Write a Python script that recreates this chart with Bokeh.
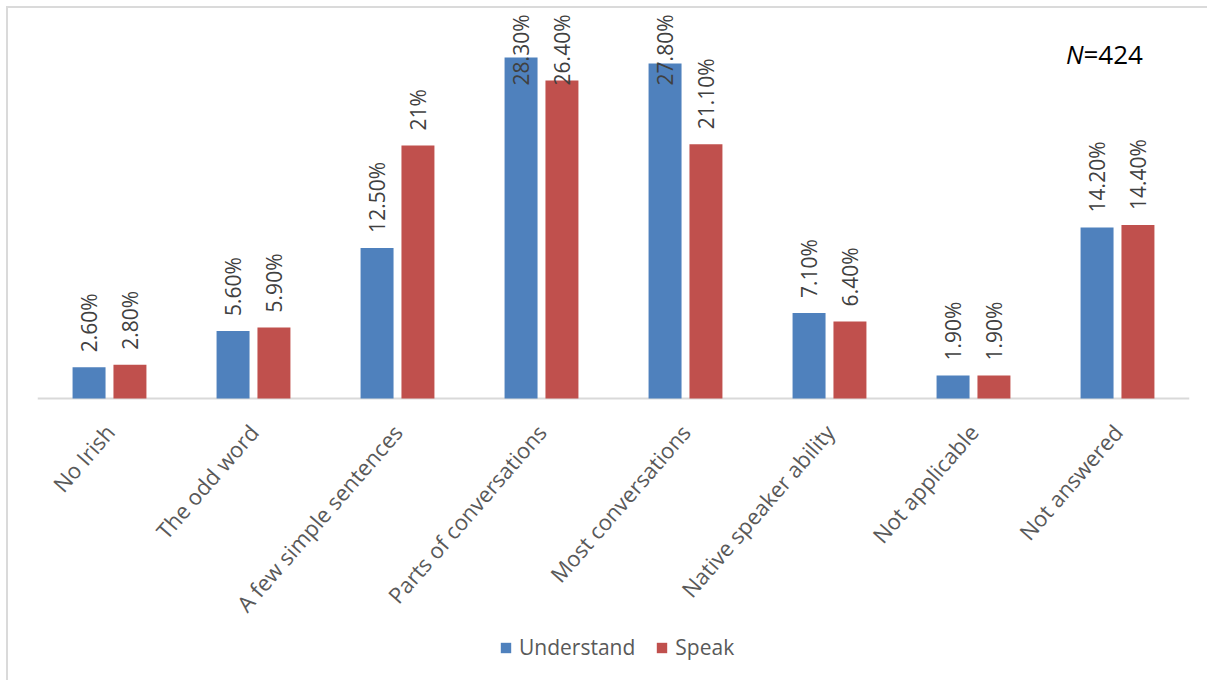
from math import pi, radians
from bokeh.plotting import figure
from bokeh.models import ColumnDataSource, FactorRange, Range1d, Span, Legend, LegendItem, Label
from bokeh.transform import dodge
from bokeh.core.properties import value
from bokeh.embed import file_html
from bokeh.resources import INLINE

# ---- data ----
categories = ["No Irish", "The odd word", "A few simple sentences", "Parts of conversations",
              "Most conversations", "Native speaker ability", "Not applicable", "Not answered"]
understand = [2.6, 5.6, 12.5, 28.3, 27.8, 7.1, 1.9, 14.2]
speak = [2.8, 5.9, 21.0, 26.4, 21.1, 6.4, 1.9, 14.4]
understand_labels = ["2.60%", "5.60%", "12.50%", "28.30%", "27.80%", "7.10%", "1.90%", "14.20%"]
speak_labels = ["2.80%", "5.90%", "21%", "26.40%", "21.10%", "6.40%", "1.90%", "14.40%"]
series_names = ["Understand", "Speak"]
n_text = ["N", "=424"]

# ---- style / layout constants ----
W, H = 1201, 674
BASE_Y = 390.0          # px from top of figure to the baseline
PX_PER_UNIT = 12.05
LABEL_GAP_PX = 15
LABEL_LEN_PX = 74
TOP_PAD_PX = 6
BLUE, RED = "#4F81BD", "#C0504D"
FONT = "Open Sans"
BAR_W = 0.229
OFF = 0.142

p = figure(width=W, height=H, x_range=FactorRange(*categories),
           y_range=Range1d(-(H - BASE_Y) / PX_PER_UNIT, BASE_Y / PX_PER_UNIT),
           output_backend="svg", toolbar_location=None,
           x_axis_location=None, y_axis_location=None,
           min_border_left=29, min_border_right=20, min_border_top=0, min_border_bottom=0)
p.xgrid.visible = False
p.ygrid.visible = False
p.outline_line_color = None
p.background_fill_color = "white"
p.border_fill_color = "white"
p.styles = {"border-top": "2px solid #dadada", "border-left": "2px solid #dadada",
            "border-right": "none", "border-bottom": "none", "outline": "none",
            "box-shadow": "none", "margin-left": "6px", "margin-top": "6px"}

p.add_layout(Span(location=0, dimension="width", line_color="#d9d9d9", line_width=2, level="underlay"))

top_anchor = (BASE_Y - TOP_PAD_PX) / PX_PER_UNIT
gap = LABEL_GAP_PX / PX_PER_UNIT
lab_len = LABEL_LEN_PX / PX_PER_UNIT

renderers = []
for vals, labels, color, off in [(understand, understand_labels, BLUE, -OFF),
                                 (speak, speak_labels, RED, OFF)]:
    src = ColumnDataSource(dict(cat=categories, v=vals))
    r = p.vbar(x=dodge("cat", off, range=p.x_range), top="v", width=BAR_W, bottom=0,
               source=src, fill_color=color, line_color=None)
    renderers.append(r)
    normal = dict(cat=[], y=[], t=[])
    clamped = dict(cat=[], y=[], t=[])
    for c, v, t in zip(categories, vals, labels):
        if v + gap + lab_len > top_anchor:
            clamped["cat"].append(c); clamped["y"].append(top_anchor); clamped["t"].append(t)
        else:
            normal["cat"].append(c); normal["y"].append(v + gap); normal["t"].append(t)
    for d, align in [(normal, "left"), (clamped, "right")]:
        p.text(x=dodge("cat", off, range=p.x_range), y="y", text="t", source=ColumnDataSource(d),
               angle=pi / 2, text_align=align, text_baseline="middle",
               text_font=value(FONT), text_font_size="21px", text_color="#404040")

# category labels
p.text(x="cat", y=0, text="cat", source=ColumnDataSource(dict(cat=categories)),
       angle=radians(49), text_align="right", text_baseline="middle", x_offset=0, y_offset=29,
       text_font=value(FONT), text_font_size="22px", text_color="#595959")

# N=424
p.add_layout(Label(x=1046, y=H - 45, x_units="screen", y_units="screen", text=n_text[0],
                   text_font=FONT, text_font_size="25px", text_font_style="italic",
                   text_color="black", text_align="right", text_baseline="alphabetic"))
p.add_layout(Label(x=1046, y=H - 45, x_units="screen", y_units="screen", text=n_text[1],
                   text_font=FONT, text_font_size="26px",
                   text_color="black", text_align="left", text_baseline="alphabetic"))

legend = Legend(items=[LegendItem(label=series_names[0], renderers=[renderers[0]]),
                       LegendItem(label=series_names[1], renderers=[renderers[1]])],
                orientation="horizontal", location=(462, 21),
                glyph_width=13, glyph_height=13, label_text_font=FONT,
                label_text_font_size="21px", label_text_color="#595959",
                label_standoff=7, spacing=20, padding=0, margin=0,
                border_line_color=None, background_fill_alpha=0)
p.add_layout(legend)

open("out.html", "w").write(file_html(p, INLINE))
